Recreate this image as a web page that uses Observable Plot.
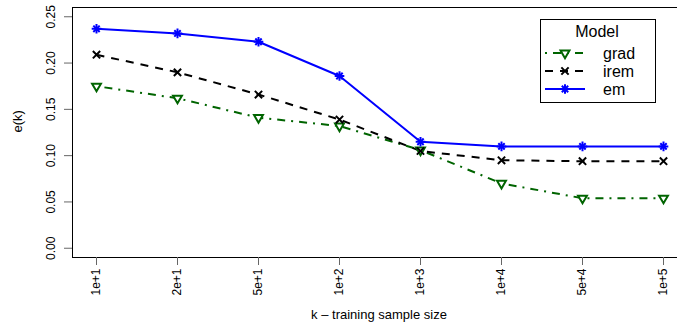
<!DOCTYPE html>
<html><head><meta charset="utf-8">
<script src="https://cdn.jsdelivr.net/npm/d3@7"></script>
<script src="https://cdn.jsdelivr.net/npm/@observablehq/plot@0.6"></script>
<style>
body{margin:0;background:#fff}
#chart{position:relative;width:677px;height:324px;overflow:hidden}
</style>
</head><body><div id="chart"></div>
<script>
// ---- data ----
const categories = ["1e+1","2e+1","5e+1","1e+2","1e+3","1e+4","5e+4","1e+5"];
const gradValues = [0.175, 0.162, 0.141, 0.132, 0.106, 0.070, 0.054, 0.054];
const iremValues = [0.209, 0.190, 0.166, 0.139, 0.105, 0.095, 0.094, 0.094];
const emValues   = [0.237, 0.232, 0.223, 0.186, 0.115, 0.110, 0.110, 0.110];
const yTicks = [0, 0.05, 0.10, 0.15, 0.20, 0.25];
const yDomain = [-0.01, 0.26];
const seriesNames = ["grad", "irem", "em"];
const xLabel = "k \u2013 training sample size";
const yLabel = "e(k)";
const legendTitle = "Model";

// ---- styles ----
const styles = {
  grad: {color: "#006400", dash: "2,6,8,6"},
  irem: {color: "#000000", dash: "8,7"},
  em:   {color: "#0000ff", dash: null}
};
const valuesBy = {grad: gradValues, irem: iremValues, em: emValues};
const rows = seriesNames.flatMap(s => categories.map((c, i) => ({series: s, k: c, v: valuesBy[s][i]})));
const bySeries = s => rows.filter(d => d.series === s);

const font = "'Liberation Sans', Arial, Helvetica, sans-serif";

const marks = [
  Plot.frame({stroke: "#000"}),
  // x tick marks hanging below the frame
  Plot.ruleX(categories, {x: d => d, y1: yDomain[0], y2: yDomain[0], insetBottom: -8, stroke: "#666"}),
  Plot.axisX({tickRotate: -90, tickSize: 0, tickPadding: 11, fontSize: 12, fill: "#000", label: null}),
  Plot.axisY({ticks: yTicks, tickFormat: d3.format(".2f"), tickRotate: -90, tickSize: 8, tickPadding: 10, fontSize: 12, stroke: "#666", fill: "#000", label: null}),
  Plot.text([xLabel], {frameAnchor: "bottom", dy: 57, dx: 4, fontSize: 13, lineAnchor: "middle", fill: "#000"}),
  Plot.text([yLabel], {frameAnchor: "left", dx: -55, rotate: -90, fontSize: 13, lineAnchor: "middle", fill: "#000"})
];
for (const s of seriesNames) {
  const st = styles[s];
  marks.push(Plot.line(bySeries(s), {x: "k", y: "v", stroke: st.color, strokeWidth: 2, strokeDasharray: st.dash, strokeLinecap: "butt"}));
}
marks.push(Plot.dot(bySeries("grad"), {x: "k", y: "v", symbol: "triangle", rotate: 180, r: 3.3, stroke: styles.grad.color, strokeWidth: 2, fill: "white"}));
marks.push(Plot.dot(bySeries("irem"), {x: "k", y: "v", symbol: "times", r: 3.4, stroke: styles.irem.color, strokeWidth: 2}));
marks.push(Plot.dot(bySeries("em"), {x: "k", y: "v", symbol: "plus", r: 3.2, stroke: styles.em.color, strokeWidth: 2}));
marks.push(Plot.dot(bySeries("em"), {x: "k", y: "v", symbol: "times", r: 3.0, stroke: styles.em.color, strokeWidth: 2}));

const chart = Plot.plot({
  width: 677,
  height: 324,
  marginLeft: 72,
  marginRight: 0,
  marginTop: 7,
  marginBottom: 67,
  style: {fontFamily: font, fontSize: "12px", background: "#fff", color: "#000"},
  x: {type: "point", domain: categories, range: [95, 664], padding: 0},
  y: {domain: yDomain},
  marks
});
document.getElementById("chart").appendChild(chart);

// ---- legend (inside plot area, top right) ----
const svg = d3.select(chart);
const lg = svg.append("g").attr("font-family", font);
lg.append("rect").attr("x", 540.5).attr("y", 19.5).attr("width", 115).attr("height", 83)
  .attr("fill", "#fff").attr("stroke", "#000").attr("stroke-width", 1);
lg.append("text").attr("x", 597).attr("y", 37).attr("text-anchor", "middle").attr("font-size", 16).text(legendTitle);
const legendSymbols = {
  grad: [[d3.symbolTriangle, 180, 3.3]],
  irem: [[d3.symbolTimes, 0, 3.4]],
  em: [[d3.symbolPlus, 0, 3.2], [d3.symbolTimes, 0, 3.0]]
};
seriesNames.forEach((s, i) => {
  const y = 53 + i * 18;
  const st = styles[s];
  lg.append("line").attr("x1", 545).attr("x2", 585).attr("y1", y).attr("y2", y)
    .attr("stroke", st.color).attr("stroke-width", 2).attr("stroke-dasharray", st.dash);
  for (const [sym, rot, r] of legendSymbols[s]) {
    lg.append("path").attr("d", d3.symbol(sym, Math.PI * r * r)())
      .attr("transform", `translate(565,${y}) rotate(${rot})`)
      .attr("fill", s === "grad" ? "#fff" : "none").attr("stroke", st.color).attr("stroke-width", 2);
  }
  lg.append("text").attr("x", 603).attr("y", y).attr("dy", "0.35em").attr("text-anchor", "start").attr("font-size", 16).text(s);
});
</script>
</body></html>
